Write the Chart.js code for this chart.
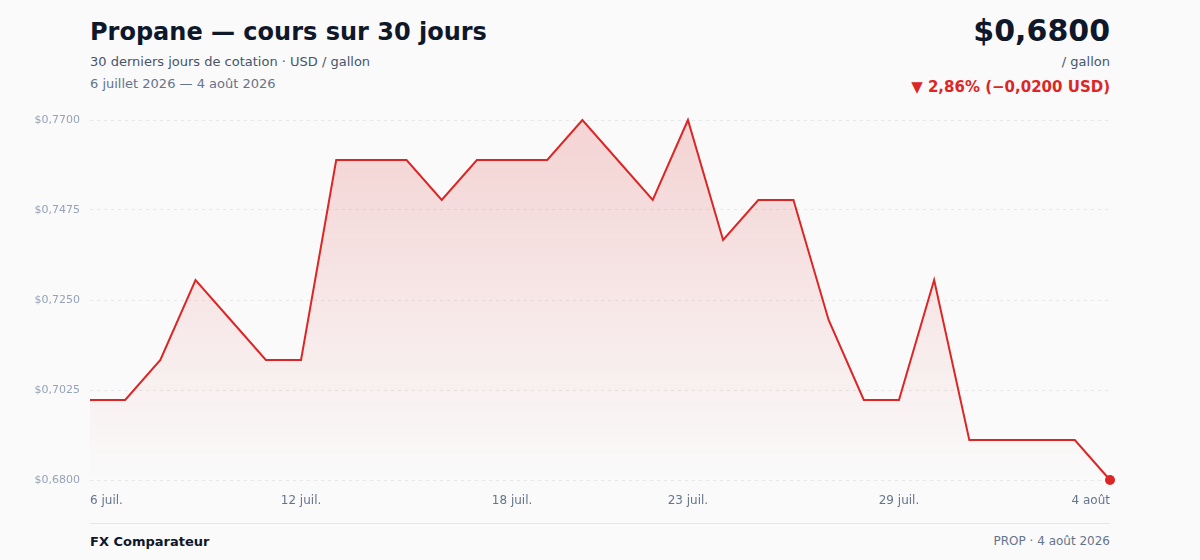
<!DOCTYPE html>
<html lang="fr">
<head>
<meta charset="utf-8">
<script src="https://cdn.jsdelivr.net/npm/chart.js@4.4.1/dist/chart.umd.min.js"></script>
<style>
  html, body { margin: 0; padding: 0; }
  body {
    width: 1200px; height: 560px; background: #fafafa; position: relative; overflow: hidden;
    font-family: "DejaVu Sans", sans-serif;
  }
  .title { position: absolute; left: 90px; top: 18px; font-size: 24px; font-weight: bold; color: #0f172a; }
  .sub { position: absolute; left: 90px; font-size: 13px; color: #475569; }
  .date { color: #64748b; }
  .price { position: absolute; right: 90px; top: 13px; font-size: 30px; font-weight: bold; color: #0f172a; }
  .unit { position: absolute; right: 90px; top: 54px; font-size: 13px; color: #475569; }
  .change { position: absolute; right: 90px; top: 78px; font-size: 15px; font-weight: bold; color: #dc2626; }
  .chart-wrap { position: absolute; left: 0; top: 100px; width: 1200px; height: 420px; }
  .footer-line { position: absolute; left: 90px; width: 1020px; top: 523px; height: 1px; background: #e5e7eb; }
  .brand { position: absolute; left: 90px; top: 534px; font-size: 13px; font-weight: bold; color: #0f172a; }
  .source { position: absolute; right: 90px; top: 534px; font-size: 12px; color: #64748b; }
</style>
</head>
<body>
<div class="title">Propane — cours sur 30 jours</div>
<div class="sub" style="top:54px">30 derniers jours de cotation · USD / gallon</div>
<div class="sub date" style="top:76px">6 juillet 2026 — 4 août 2026</div>
<div class="price">$0,6800</div>
<div class="unit">/ gallon</div>
<div class="change">▼ 2,86% (−0,0200 USD)</div>
<div class="chart-wrap"><canvas id="chart"></canvas></div>
<div class="footer-line"></div>
<div class="brand">FX Comparateur</div>
<div class="source">PROP · 4 août 2026</div>

<script>
// 30 jours calendaires, 6 juil. -> 4 août 2026
const days = [
  '6 juil.', '7 juil.', '8 juil.', '9 juil.', '10 juil.', '11 juil.', '12 juil.', '13 juil.',
  '14 juil.', '15 juil.', '16 juil.', '17 juil.', '18 juil.', '19 juil.', '20 juil.', '21 juil.',
  '22 juil.', '23 juil.', '24 juil.', '25 juil.', '26 juil.', '27 juil.', '28 juil.', '29 juil.',
  '30 juil.', '31 juil.', '1 août', '2 août', '3 août', '4 août'
];
const prices = [
  0.7000, 0.7000, 0.7100, 0.7300, 0.7200, 0.7100, 0.7100, 0.7600,
  0.7600, 0.7600, 0.7500, 0.7600, 0.7600, 0.7600, 0.7700, 0.7600,
  0.7500, 0.7700, 0.7400, 0.7500, 0.7500, 0.7200, 0.7000, 0.7000,
  0.7300, 0.6900, 0.6900, 0.6900, 0.6900, 0.6800
];
const shownLabels = [0, 6, 12, 17, 23, 29];
const yTicks = [0.6800, 0.7025, 0.7250, 0.7475, 0.7700];

const lineColor = '#dc2626';

function fmtPrice(v) {
  return '$' + v.toFixed(4).replace('.', ',');
}

const ctx = document.getElementById('chart').getContext('2d');
new Chart(ctx, {
  type: 'line',
  data: {
    labels: days,
    datasets: [{
      data: prices,
      borderColor: lineColor,
      borderWidth: 2,
      tension: 0,
      clip: false,
      fill: 'start',
      backgroundColor: (c) => {
        const area = c.chart.chartArea;
        if (!area) return 'rgba(220,38,38,0.1)';
        const g = c.chart.ctx.createLinearGradient(0, area.top, 0, area.bottom);
        g.addColorStop(0, 'rgba(220,38,38,0.18)');
        g.addColorStop(1, 'rgba(220,38,38,0.0)');
        return g;
      },
      pointRadius: prices.map((p, i) => i === prices.length - 1 ? 5 : 0),
      pointBackgroundColor: lineColor,
      pointBorderWidth: 0,
      pointHoverRadius: 0
    }]
  },
  options: {
    responsive: true,
    maintainAspectRatio: false,
    animation: false,
    layout: { padding: { left: 0, right: 90, top: 20, bottom: 0 } },
    plugins: {
      legend: { display: false },
      tooltip: { enabled: false }
    },
    scales: {
      x: {
        offset: false,
        border: { display: false },
        grid: { display: false, drawTicks: false },
        ticks: {
          autoSkip: false,
          maxRotation: 0,
          align: 'inner',
          padding: 14,
          color: '#64748b',
          font: { family: 'DejaVu Sans', size: 12 },
          callback: (v, i) => shownLabels.includes(i) ? days[i] : ''
        },
        afterFit: (scale) => { scale.height = 40; }
      },
      y: {
        min: 0.68,
        max: 0.77,
        border: { display: false, dash: [3, 4] },
        grid: {
          color: '#e5e7eb',
          drawTicks: false
        },
        afterBuildTicks: (scale) => { scale.ticks = yTicks.map(v => ({ value: v })); },
        afterFit: (scale) => { scale.width = 90; },
        ticks: {
          padding: 10,
          color: '#94a3b8',
          font: { family: 'DejaVu Sans', size: 11 },
          callback: (v) => fmtPrice(v)
        }
      }
    }
  }
});
</script>
</body>
</html>
